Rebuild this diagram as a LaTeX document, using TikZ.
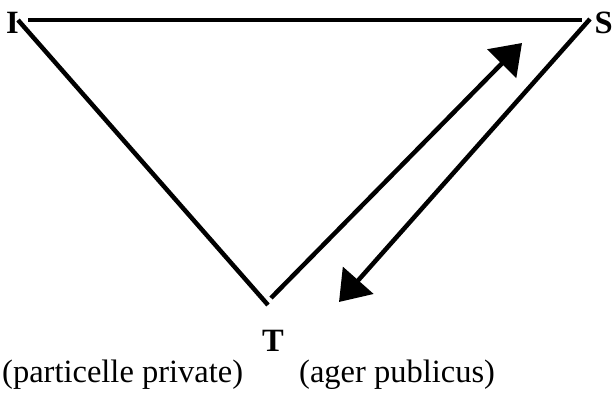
\documentclass[tikz,border=0pt]{standalone}
\usepackage{fontspec}
\setmainfont{Liberation Serif}
\usetikzlibrary{arrows.meta}

\tikzset{
  side/.style={line width=4.5pt},
  pfeil/.style={side, -{Triangle[length=29pt, width=40pt]}},
  lbl/.style={font=\fontsize{32.5}{36}\selectfont, inner sep=0pt},
}

\begin{document}
\begin{tikzpicture}[x=1pt, y=-1pt]
  \useasboundingbox (0,0) rectangle (614,394);

  % corners
  \coordinate (iTop)   at (28, 20);
  \coordinate (sTop)   at (582, 20);
  \coordinate (iDiag)  at (18, 20);
  \coordinate (tLeft)  at (268, 305);
  \coordinate (tRight) at (271, 298);
  \coordinate (sTip)   at (522, 43);
  \coordinate (sDiag)  at (590, 19);
  \coordinate (tTip)   at (339, 302);

  \draw[side] (iTop) -- (sTop);
  \draw[side] (iDiag) -- (tLeft);

  \draw[pfeil] (tRight) -- (sTip);
  \draw[pfeil] (sDiag) -- (tTip);

  \node[lbl, anchor=base west] (I) at (6, 33) {\textbf{I}};
  \node[lbl, anchor=base east] (S) at (613, 33) {\textbf{S}};
  \node[lbl, anchor=base] (T) at (273, 351) {\textbf{T}};

  \node[lbl, anchor=base west] (privat) at (2, 382) {(particelle private)};
  \node[lbl, anchor=base west] (ager) at (299, 382) {(ager publicus)};
\end{tikzpicture}
\end{document}
